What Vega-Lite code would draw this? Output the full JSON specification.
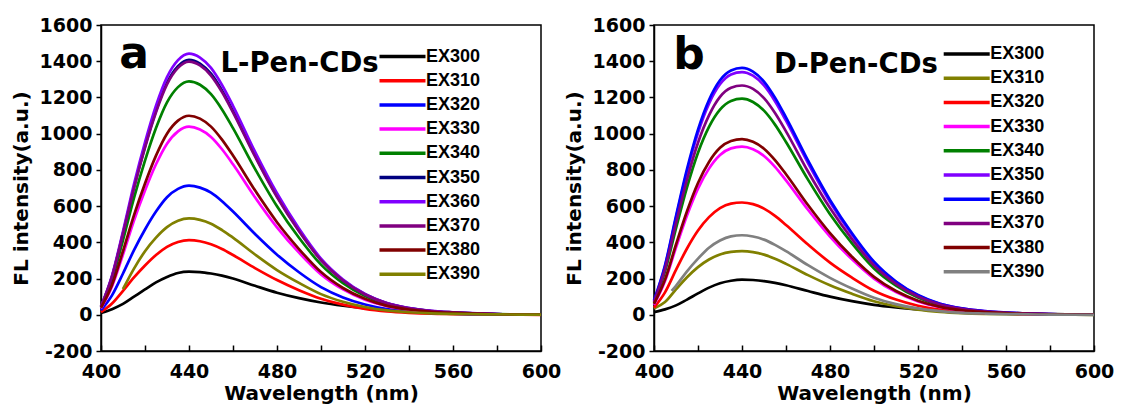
{
"$schema": "https://vega.github.io/schema/vega-lite/v6.json",
"background": "white",
"padding": {"left": 10, "top": 15, "right": 5, "bottom": 5},
"config": {
 "view": {"stroke": "black", "strokeWidth": 1.5},
 "axis": {"labelFont": "DejaVu Sans", "labelFontWeight": "bold", "labelFontSize": 19, "labelColor": "black", "titleFont": "DejaVu Sans", "titleFontWeight": "bold", "titleFontSize": 20, "titleColor": "black", "domainColor": "black", "domainWidth": 1.5, "tickColor": "black", "tickWidth": 1.5, "grid": false, "labelOverlap": false, "labelBound": false, "labelFlush": false},
 "legend": {"title": null, "labelFont": "Liberation Sans", "labelFontWeight": "bold", "labelFontSize": 18, "labelColor": "black", "symbolType": "stroke", "symbolSize": 2116, "symbolStrokeWidth": 3.5, "clipHeight": 22, "rowPadding": 2.2, "labelOffset": -1.5, "padding": 0, "orient": "none"}
},
"datasets": {"d": [
{"p":"a","s":"EX300","w":400,"v":10},{"p":"a","s":"EX300","w":405,"v":31},{"p":"a","s":"EX300","w":410,"v":60},{"p":"a","s":"EX300","w":415,"v":100},{"p":"a","s":"EX300","w":420,"v":140},{"p":"a","s":"EX300","w":425,"v":179},{"p":"a","s":"EX300","w":430,"v":209},{"p":"a","s":"EX300","w":435,"v":231},{"p":"a","s":"EX300","w":440,"v":238},{"p":"a","s":"EX300","w":445,"v":236},{"p":"a","s":"EX300","w":450,"v":228},{"p":"a","s":"EX300","w":455,"v":216},{"p":"a","s":"EX300","w":460,"v":200},{"p":"a","s":"EX300","w":470,"v":160},{"p":"a","s":"EX300","w":480,"v":122},{"p":"a","s":"EX300","w":490,"v":92},{"p":"a","s":"EX300","w":500,"v":68},{"p":"a","s":"EX300","w":510,"v":50},{"p":"a","s":"EX300","w":520,"v":36},{"p":"a","s":"EX300","w":530,"v":25},{"p":"a","s":"EX300","w":540,"v":17},{"p":"a","s":"EX300","w":550,"v":11},{"p":"a","s":"EX300","w":560,"v":7},{"p":"a","s":"EX300","w":580,"v":2},{"p":"a","s":"EX300","w":600,"v":1},
{"p":"a","s":"EX310","w":400,"v":15},{"p":"a","s":"EX310","w":405,"v":62},{"p":"a","s":"EX310","w":410,"v":132},{"p":"a","s":"EX310","w":415,"v":206},{"p":"a","s":"EX310","w":420,"v":272},{"p":"a","s":"EX310","w":425,"v":330},{"p":"a","s":"EX310","w":430,"v":375},{"p":"a","s":"EX310","w":435,"v":402},{"p":"a","s":"EX310","w":440,"v":412},{"p":"a","s":"EX310","w":445,"v":406},{"p":"a","s":"EX310","w":450,"v":389},{"p":"a","s":"EX310","w":455,"v":363},{"p":"a","s":"EX310","w":460,"v":330},{"p":"a","s":"EX310","w":470,"v":258},{"p":"a","s":"EX310","w":480,"v":192},{"p":"a","s":"EX310","w":490,"v":136},{"p":"a","s":"EX310","w":500,"v":89},{"p":"a","s":"EX310","w":510,"v":56},{"p":"a","s":"EX310","w":520,"v":33},{"p":"a","s":"EX310","w":530,"v":19},{"p":"a","s":"EX310","w":540,"v":11},{"p":"a","s":"EX310","w":550,"v":6},{"p":"a","s":"EX310","w":560,"v":4},{"p":"a","s":"EX310","w":580,"v":1},{"p":"a","s":"EX310","w":600,"v":0},
{"p":"a","s":"EX320","w":400,"v":25},{"p":"a","s":"EX320","w":405,"v":107},{"p":"a","s":"EX320","w":410,"v":228},{"p":"a","s":"EX320","w":415,"v":357},{"p":"a","s":"EX320","w":420,"v":471},{"p":"a","s":"EX320","w":425,"v":570},{"p":"a","s":"EX320","w":430,"v":649},{"p":"a","s":"EX320","w":435,"v":695},{"p":"a","s":"EX320","w":440,"v":713},{"p":"a","s":"EX320","w":445,"v":702},{"p":"a","s":"EX320","w":450,"v":674},{"p":"a","s":"EX320","w":455,"v":627},{"p":"a","s":"EX320","w":460,"v":570},{"p":"a","s":"EX320","w":470,"v":446},{"p":"a","s":"EX320","w":480,"v":332},{"p":"a","s":"EX320","w":490,"v":235},{"p":"a","s":"EX320","w":500,"v":153},{"p":"a","s":"EX320","w":510,"v":96},{"p":"a","s":"EX320","w":520,"v":57},{"p":"a","s":"EX320","w":530,"v":32},{"p":"a","s":"EX320","w":540,"v":19},{"p":"a","s":"EX320","w":550,"v":11},{"p":"a","s":"EX320","w":560,"v":6},{"p":"a","s":"EX320","w":580,"v":2},{"p":"a","s":"EX320","w":600,"v":1},
{"p":"a","s":"EX330","w":400,"v":35},{"p":"a","s":"EX330","w":405,"v":156},{"p":"a","s":"EX330","w":410,"v":332},{"p":"a","s":"EX330","w":415,"v":520},{"p":"a","s":"EX330","w":420,"v":686},{"p":"a","s":"EX330","w":425,"v":831},{"p":"a","s":"EX330","w":430,"v":945},{"p":"a","s":"EX330","w":435,"v":1013},{"p":"a","s":"EX330","w":440,"v":1039},{"p":"a","s":"EX330","w":445,"v":1023},{"p":"a","s":"EX330","w":450,"v":982},{"p":"a","s":"EX330","w":455,"v":914},{"p":"a","s":"EX330","w":460,"v":831},{"p":"a","s":"EX330","w":470,"v":649},{"p":"a","s":"EX330","w":480,"v":483},{"p":"a","s":"EX330","w":490,"v":343},{"p":"a","s":"EX330","w":500,"v":223},{"p":"a","s":"EX330","w":510,"v":140},{"p":"a","s":"EX330","w":520,"v":83},{"p":"a","s":"EX330","w":530,"v":47},{"p":"a","s":"EX330","w":540,"v":27},{"p":"a","s":"EX330","w":550,"v":16},{"p":"a","s":"EX330","w":560,"v":9},{"p":"a","s":"EX330","w":580,"v":3},{"p":"a","s":"EX330","w":600,"v":1},
{"p":"a","s":"EX340","w":400,"v":40},{"p":"a","s":"EX340","w":405,"v":193},{"p":"a","s":"EX340","w":410,"v":412},{"p":"a","s":"EX340","w":415,"v":645},{"p":"a","s":"EX340","w":420,"v":851},{"p":"a","s":"EX340","w":425,"v":1031},{"p":"a","s":"EX340","w":430,"v":1173},{"p":"a","s":"EX340","w":435,"v":1257},{"p":"a","s":"EX340","w":440,"v":1289},{"p":"a","s":"EX340","w":445,"v":1270},{"p":"a","s":"EX340","w":450,"v":1218},{"p":"a","s":"EX340","w":455,"v":1134},{"p":"a","s":"EX340","w":460,"v":1031},{"p":"a","s":"EX340","w":470,"v":806},{"p":"a","s":"EX340","w":480,"v":599},{"p":"a","s":"EX340","w":490,"v":425},{"p":"a","s":"EX340","w":500,"v":277},{"p":"a","s":"EX340","w":510,"v":174},{"p":"a","s":"EX340","w":520,"v":103},{"p":"a","s":"EX340","w":530,"v":58},{"p":"a","s":"EX340","w":540,"v":34},{"p":"a","s":"EX340","w":550,"v":19},{"p":"a","s":"EX340","w":560,"v":12},{"p":"a","s":"EX340","w":580,"v":4},{"p":"a","s":"EX340","w":600,"v":1},
{"p":"a","s":"EX350","w":400,"v":45},{"p":"a","s":"EX350","w":405,"v":211},{"p":"a","s":"EX350","w":410,"v":451},{"p":"a","s":"EX350","w":415,"v":704},{"p":"a","s":"EX350","w":420,"v":929},{"p":"a","s":"EX350","w":425,"v":1126},{"p":"a","s":"EX350","w":430,"v":1281},{"p":"a","s":"EX350","w":435,"v":1373},{"p":"a","s":"EX350","w":440,"v":1408},{"p":"a","s":"EX350","w":445,"v":1387},{"p":"a","s":"EX350","w":450,"v":1331},{"p":"a","s":"EX350","w":455,"v":1239},{"p":"a","s":"EX350","w":460,"v":1126},{"p":"a","s":"EX350","w":470,"v":880},{"p":"a","s":"EX350","w":480,"v":655},{"p":"a","s":"EX350","w":490,"v":465},{"p":"a","s":"EX350","w":500,"v":303},{"p":"a","s":"EX350","w":510,"v":190},{"p":"a","s":"EX350","w":520,"v":113},{"p":"a","s":"EX350","w":530,"v":63},{"p":"a","s":"EX350","w":540,"v":37},{"p":"a","s":"EX350","w":550,"v":21},{"p":"a","s":"EX350","w":560,"v":13},{"p":"a","s":"EX350","w":580,"v":4},{"p":"a","s":"EX350","w":600,"v":1},
{"p":"a","s":"EX360","w":400,"v":45},{"p":"a","s":"EX360","w":405,"v":216},{"p":"a","s":"EX360","w":410,"v":461},{"p":"a","s":"EX360","w":415,"v":721},{"p":"a","s":"EX360","w":420,"v":952},{"p":"a","s":"EX360","w":425,"v":1154},{"p":"a","s":"EX360","w":430,"v":1312},{"p":"a","s":"EX360","w":435,"v":1406},{"p":"a","s":"EX360","w":440,"v":1442},{"p":"a","s":"EX360","w":445,"v":1420},{"p":"a","s":"EX360","w":450,"v":1363},{"p":"a","s":"EX360","w":455,"v":1269},{"p":"a","s":"EX360","w":460,"v":1154},{"p":"a","s":"EX360","w":470,"v":901},{"p":"a","s":"EX360","w":480,"v":671},{"p":"a","s":"EX360","w":490,"v":476},{"p":"a","s":"EX360","w":500,"v":310},{"p":"a","s":"EX360","w":510,"v":195},{"p":"a","s":"EX360","w":520,"v":115},{"p":"a","s":"EX360","w":530,"v":65},{"p":"a","s":"EX360","w":540,"v":37},{"p":"a","s":"EX360","w":550,"v":22},{"p":"a","s":"EX360","w":560,"v":13},{"p":"a","s":"EX360","w":580,"v":4},{"p":"a","s":"EX360","w":600,"v":1},
{"p":"a","s":"EX370","w":400,"v":45},{"p":"a","s":"EX370","w":405,"v":210},{"p":"a","s":"EX370","w":410,"v":447},{"p":"a","s":"EX370","w":415,"v":699},{"p":"a","s":"EX370","w":420,"v":923},{"p":"a","s":"EX370","w":425,"v":1118},{"p":"a","s":"EX370","w":430,"v":1272},{"p":"a","s":"EX370","w":435,"v":1363},{"p":"a","s":"EX370","w":440,"v":1398},{"p":"a","s":"EX370","w":445,"v":1377},{"p":"a","s":"EX370","w":450,"v":1321},{"p":"a","s":"EX370","w":455,"v":1230},{"p":"a","s":"EX370","w":460,"v":1118},{"p":"a","s":"EX370","w":470,"v":874},{"p":"a","s":"EX370","w":480,"v":650},{"p":"a","s":"EX370","w":490,"v":461},{"p":"a","s":"EX370","w":500,"v":301},{"p":"a","s":"EX370","w":510,"v":189},{"p":"a","s":"EX370","w":520,"v":112},{"p":"a","s":"EX370","w":530,"v":63},{"p":"a","s":"EX370","w":540,"v":36},{"p":"a","s":"EX370","w":550,"v":21},{"p":"a","s":"EX370","w":560,"v":13},{"p":"a","s":"EX370","w":580,"v":4},{"p":"a","s":"EX370","w":600,"v":1},
{"p":"a","s":"EX380","w":400,"v":40},{"p":"a","s":"EX380","w":405,"v":165},{"p":"a","s":"EX380","w":410,"v":352},{"p":"a","s":"EX380","w":415,"v":550},{"p":"a","s":"EX380","w":420,"v":725},{"p":"a","s":"EX380","w":425,"v":879},{"p":"a","s":"EX380","w":430,"v":1000},{"p":"a","s":"EX380","w":435,"v":1072},{"p":"a","s":"EX380","w":440,"v":1099},{"p":"a","s":"EX380","w":445,"v":1083},{"p":"a","s":"EX380","w":450,"v":1039},{"p":"a","s":"EX380","w":455,"v":967},{"p":"a","s":"EX380","w":460,"v":879},{"p":"a","s":"EX380","w":470,"v":687},{"p":"a","s":"EX380","w":480,"v":511},{"p":"a","s":"EX380","w":490,"v":363},{"p":"a","s":"EX380","w":500,"v":236},{"p":"a","s":"EX380","w":510,"v":148},{"p":"a","s":"EX380","w":520,"v":88},{"p":"a","s":"EX380","w":530,"v":49},{"p":"a","s":"EX380","w":540,"v":29},{"p":"a","s":"EX380","w":550,"v":16},{"p":"a","s":"EX380","w":560,"v":10},{"p":"a","s":"EX380","w":580,"v":3},{"p":"a","s":"EX380","w":600,"v":1},
{"p":"a","s":"EX390","w":410,"v":142},{"p":"a","s":"EX390","w":415,"v":255},{"p":"a","s":"EX390","w":420,"v":351},{"p":"a","s":"EX390","w":425,"v":426},{"p":"a","s":"EX390","w":430,"v":484},{"p":"a","s":"EX390","w":435,"v":519},{"p":"a","s":"EX390","w":440,"v":532},{"p":"a","s":"EX390","w":445,"v":524},{"p":"a","s":"EX390","w":450,"v":503},{"p":"a","s":"EX390","w":455,"v":468},{"p":"a","s":"EX390","w":460,"v":426},{"p":"a","s":"EX390","w":470,"v":333},{"p":"a","s":"EX390","w":480,"v":247},{"p":"a","s":"EX390","w":490,"v":176},{"p":"a","s":"EX390","w":500,"v":114},{"p":"a","s":"EX390","w":510,"v":72},{"p":"a","s":"EX390","w":520,"v":43},{"p":"a","s":"EX390","w":530,"v":24},{"p":"a","s":"EX390","w":540,"v":14},{"p":"a","s":"EX390","w":550,"v":8},{"p":"a","s":"EX390","w":560,"v":5},{"p":"a","s":"EX390","w":580,"v":2},{"p":"a","s":"EX390","w":600,"v":1},
{"p":"b","s":"EX300","w":400,"v":15},{"p":"b","s":"EX300","w":405,"v":30},{"p":"b","s":"EX300","w":410,"v":52},{"p":"b","s":"EX300","w":415,"v":84},{"p":"b","s":"EX300","w":420,"v":118},{"p":"b","s":"EX300","w":425,"v":150},{"p":"b","s":"EX300","w":430,"v":174},{"p":"b","s":"EX300","w":435,"v":188},{"p":"b","s":"EX300","w":440,"v":194},{"p":"b","s":"EX300","w":445,"v":192},{"p":"b","s":"EX300","w":450,"v":186},{"p":"b","s":"EX300","w":455,"v":176},{"p":"b","s":"EX300","w":460,"v":163},{"p":"b","s":"EX300","w":470,"v":131},{"p":"b","s":"EX300","w":480,"v":100},{"p":"b","s":"EX300","w":490,"v":75},{"p":"b","s":"EX300","w":500,"v":55},{"p":"b","s":"EX300","w":510,"v":41},{"p":"b","s":"EX300","w":520,"v":30},{"p":"b","s":"EX300","w":530,"v":21},{"p":"b","s":"EX300","w":540,"v":14},{"p":"b","s":"EX300","w":550,"v":9},{"p":"b","s":"EX300","w":560,"v":6},{"p":"b","s":"EX300","w":580,"v":2},{"p":"b","s":"EX300","w":600,"v":1},
{"p":"b","s":"EX310","w":400,"v":35},{"p":"b","s":"EX310","w":405,"v":70},{"p":"b","s":"EX310","w":410,"v":140},{"p":"b","s":"EX310","w":415,"v":207},{"p":"b","s":"EX310","w":420,"v":263},{"p":"b","s":"EX310","w":425,"v":305},{"p":"b","s":"EX310","w":430,"v":333},{"p":"b","s":"EX310","w":435,"v":347},{"p":"b","s":"EX310","w":440,"v":351},{"p":"b","s":"EX310","w":445,"v":346},{"p":"b","s":"EX310","w":450,"v":332},{"p":"b","s":"EX310","w":455,"v":309},{"p":"b","s":"EX310","w":460,"v":281},{"p":"b","s":"EX310","w":470,"v":219},{"p":"b","s":"EX310","w":480,"v":163},{"p":"b","s":"EX310","w":490,"v":116},{"p":"b","s":"EX310","w":500,"v":75},{"p":"b","s":"EX310","w":510,"v":47},{"p":"b","s":"EX310","w":520,"v":28},{"p":"b","s":"EX310","w":530,"v":16},{"p":"b","s":"EX310","w":540,"v":9},{"p":"b","s":"EX310","w":550,"v":5},{"p":"b","s":"EX310","w":560,"v":3},{"p":"b","s":"EX310","w":580,"v":1},{"p":"b","s":"EX310","w":600,"v":0},
{"p":"b","s":"EX320","w":400,"v":40},{"p":"b","s":"EX320","w":405,"v":124},{"p":"b","s":"EX320","w":410,"v":248},{"p":"b","s":"EX320","w":415,"v":366},{"p":"b","s":"EX320","w":420,"v":465},{"p":"b","s":"EX320","w":425,"v":539},{"p":"b","s":"EX320","w":430,"v":589},{"p":"b","s":"EX320","w":435,"v":614},{"p":"b","s":"EX320","w":440,"v":620},{"p":"b","s":"EX320","w":445,"v":611},{"p":"b","s":"EX320","w":450,"v":586},{"p":"b","s":"EX320","w":455,"v":546},{"p":"b","s":"EX320","w":460,"v":496},{"p":"b","s":"EX320","w":470,"v":388},{"p":"b","s":"EX320","w":480,"v":288},{"p":"b","s":"EX320","w":490,"v":205},{"p":"b","s":"EX320","w":500,"v":133},{"p":"b","s":"EX320","w":510,"v":84},{"p":"b","s":"EX320","w":520,"v":50},{"p":"b","s":"EX320","w":530,"v":28},{"p":"b","s":"EX320","w":540,"v":16},{"p":"b","s":"EX320","w":550,"v":9},{"p":"b","s":"EX320","w":560,"v":6},{"p":"b","s":"EX320","w":580,"v":2},{"p":"b","s":"EX320","w":600,"v":1},
{"p":"b","s":"EX330","w":400,"v":55},{"p":"b","s":"EX330","w":405,"v":186},{"p":"b","s":"EX330","w":410,"v":371},{"p":"b","s":"EX330","w":415,"v":548},{"p":"b","s":"EX330","w":420,"v":696},{"p":"b","s":"EX330","w":425,"v":807},{"p":"b","s":"EX330","w":430,"v":882},{"p":"b","s":"EX330","w":435,"v":919},{"p":"b","s":"EX330","w":440,"v":928},{"p":"b","s":"EX330","w":445,"v":914},{"p":"b","s":"EX330","w":450,"v":877},{"p":"b","s":"EX330","w":455,"v":817},{"p":"b","s":"EX330","w":460,"v":742},{"p":"b","s":"EX330","w":470,"v":580},{"p":"b","s":"EX330","w":480,"v":432},{"p":"b","s":"EX330","w":490,"v":306},{"p":"b","s":"EX330","w":500,"v":200},{"p":"b","s":"EX330","w":510,"v":125},{"p":"b","s":"EX330","w":520,"v":74},{"p":"b","s":"EX330","w":530,"v":42},{"p":"b","s":"EX330","w":540,"v":24},{"p":"b","s":"EX330","w":550,"v":14},{"p":"b","s":"EX330","w":560,"v":8},{"p":"b","s":"EX330","w":580,"v":3},{"p":"b","s":"EX330","w":600,"v":1},
{"p":"b","s":"EX340","w":400,"v":65},{"p":"b","s":"EX340","w":405,"v":239},{"p":"b","s":"EX340","w":410,"v":477},{"p":"b","s":"EX340","w":415,"v":704},{"p":"b","s":"EX340","w":420,"v":895},{"p":"b","s":"EX340","w":425,"v":1038},{"p":"b","s":"EX340","w":430,"v":1133},{"p":"b","s":"EX340","w":435,"v":1181},{"p":"b","s":"EX340","w":440,"v":1193},{"p":"b","s":"EX340","w":445,"v":1175},{"p":"b","s":"EX340","w":450,"v":1127},{"p":"b","s":"EX340","w":455,"v":1050},{"p":"b","s":"EX340","w":460,"v":954},{"p":"b","s":"EX340","w":470,"v":746},{"p":"b","s":"EX340","w":480,"v":555},{"p":"b","s":"EX340","w":490,"v":394},{"p":"b","s":"EX340","w":500,"v":256},{"p":"b","s":"EX340","w":510,"v":161},{"p":"b","s":"EX340","w":520,"v":95},{"p":"b","s":"EX340","w":530,"v":54},{"p":"b","s":"EX340","w":540,"v":31},{"p":"b","s":"EX340","w":550,"v":18},{"p":"b","s":"EX340","w":560,"v":11},{"p":"b","s":"EX340","w":580,"v":4},{"p":"b","s":"EX340","w":600,"v":1},
{"p":"b","s":"EX350","w":400,"v":75},{"p":"b","s":"EX350","w":405,"v":268},{"p":"b","s":"EX350","w":410,"v":536},{"p":"b","s":"EX350","w":415,"v":791},{"p":"b","s":"EX350","w":420,"v":1005},{"p":"b","s":"EX350","w":425,"v":1166},{"p":"b","s":"EX350","w":430,"v":1273},{"p":"b","s":"EX350","w":435,"v":1327},{"p":"b","s":"EX350","w":440,"v":1340},{"p":"b","s":"EX350","w":445,"v":1320},{"p":"b","s":"EX350","w":450,"v":1266},{"p":"b","s":"EX350","w":455,"v":1179},{"p":"b","s":"EX350","w":460,"v":1072},{"p":"b","s":"EX350","w":470,"v":838},{"p":"b","s":"EX350","w":480,"v":623},{"p":"b","s":"EX350","w":490,"v":442},{"p":"b","s":"EX350","w":500,"v":288},{"p":"b","s":"EX350","w":510,"v":181},{"p":"b","s":"EX350","w":520,"v":107},{"p":"b","s":"EX350","w":530,"v":60},{"p":"b","s":"EX350","w":540,"v":35},{"p":"b","s":"EX350","w":550,"v":20},{"p":"b","s":"EX350","w":560,"v":12},{"p":"b","s":"EX350","w":580,"v":4},{"p":"b","s":"EX350","w":600,"v":1},
{"p":"b","s":"EX360","w":400,"v":80},{"p":"b","s":"EX360","w":405,"v":273},{"p":"b","s":"EX360","w":410,"v":545},{"p":"b","s":"EX360","w":415,"v":804},{"p":"b","s":"EX360","w":420,"v":1022},{"p":"b","s":"EX360","w":425,"v":1186},{"p":"b","s":"EX360","w":430,"v":1295},{"p":"b","s":"EX360","w":435,"v":1349},{"p":"b","s":"EX360","w":440,"v":1363},{"p":"b","s":"EX360","w":445,"v":1343},{"p":"b","s":"EX360","w":450,"v":1288},{"p":"b","s":"EX360","w":455,"v":1199},{"p":"b","s":"EX360","w":460,"v":1090},{"p":"b","s":"EX360","w":470,"v":852},{"p":"b","s":"EX360","w":480,"v":634},{"p":"b","s":"EX360","w":490,"v":450},{"p":"b","s":"EX360","w":500,"v":293},{"p":"b","s":"EX360","w":510,"v":184},{"p":"b","s":"EX360","w":520,"v":109},{"p":"b","s":"EX360","w":530,"v":61},{"p":"b","s":"EX360","w":540,"v":35},{"p":"b","s":"EX360","w":550,"v":20},{"p":"b","s":"EX360","w":560,"v":12},{"p":"b","s":"EX360","w":580,"v":4},{"p":"b","s":"EX360","w":600,"v":1},
{"p":"b","s":"EX370","w":400,"v":70},{"p":"b","s":"EX370","w":405,"v":253},{"p":"b","s":"EX370","w":410,"v":506},{"p":"b","s":"EX370","w":415,"v":747},{"p":"b","s":"EX370","w":420,"v":950},{"p":"b","s":"EX370","w":425,"v":1101},{"p":"b","s":"EX370","w":430,"v":1203},{"p":"b","s":"EX370","w":435,"v":1253},{"p":"b","s":"EX370","w":440,"v":1266},{"p":"b","s":"EX370","w":445,"v":1247},{"p":"b","s":"EX370","w":450,"v":1196},{"p":"b","s":"EX370","w":455,"v":1114},{"p":"b","s":"EX370","w":460,"v":1013},{"p":"b","s":"EX370","w":470,"v":791},{"p":"b","s":"EX370","w":480,"v":589},{"p":"b","s":"EX370","w":490,"v":418},{"p":"b","s":"EX370","w":500,"v":272},{"p":"b","s":"EX370","w":510,"v":171},{"p":"b","s":"EX370","w":520,"v":101},{"p":"b","s":"EX370","w":530,"v":57},{"p":"b","s":"EX370","w":540,"v":33},{"p":"b","s":"EX370","w":550,"v":19},{"p":"b","s":"EX370","w":560,"v":11},{"p":"b","s":"EX370","w":580,"v":4},{"p":"b","s":"EX370","w":600,"v":1},
{"p":"b","s":"EX380","w":400,"v":60},{"p":"b","s":"EX380","w":405,"v":194},{"p":"b","s":"EX380","w":410,"v":388},{"p":"b","s":"EX380","w":415,"v":572},{"p":"b","s":"EX380","w":420,"v":728},{"p":"b","s":"EX380","w":425,"v":844},{"p":"b","s":"EX380","w":430,"v":922},{"p":"b","s":"EX380","w":435,"v":960},{"p":"b","s":"EX380","w":440,"v":970},{"p":"b","s":"EX380","w":445,"v":955},{"p":"b","s":"EX380","w":450,"v":917},{"p":"b","s":"EX380","w":455,"v":854},{"p":"b","s":"EX380","w":460,"v":776},{"p":"b","s":"EX380","w":470,"v":606},{"p":"b","s":"EX380","w":480,"v":451},{"p":"b","s":"EX380","w":490,"v":320},{"p":"b","s":"EX380","w":500,"v":209},{"p":"b","s":"EX380","w":510,"v":131},{"p":"b","s":"EX380","w":520,"v":78},{"p":"b","s":"EX380","w":530,"v":44},{"p":"b","s":"EX380","w":540,"v":25},{"p":"b","s":"EX380","w":550,"v":15},{"p":"b","s":"EX380","w":560,"v":9},{"p":"b","s":"EX380","w":580,"v":3},{"p":"b","s":"EX380","w":600,"v":1},
{"p":"b","s":"EX390","w":408,"v":132},{"p":"b","s":"EX390","w":410,"v":160},{"p":"b","s":"EX390","w":415,"v":240},{"p":"b","s":"EX390","w":420,"v":310},{"p":"b","s":"EX390","w":425,"v":370},{"p":"b","s":"EX390","w":430,"v":410},{"p":"b","s":"EX390","w":435,"v":433},{"p":"b","s":"EX390","w":440,"v":439},{"p":"b","s":"EX390","w":445,"v":432},{"p":"b","s":"EX390","w":450,"v":415},{"p":"b","s":"EX390","w":455,"v":386},{"p":"b","s":"EX390","w":460,"v":351},{"p":"b","s":"EX390","w":470,"v":274},{"p":"b","s":"EX390","w":480,"v":204},{"p":"b","s":"EX390","w":490,"v":145},{"p":"b","s":"EX390","w":500,"v":94},{"p":"b","s":"EX390","w":510,"v":59},{"p":"b","s":"EX390","w":520,"v":35},{"p":"b","s":"EX390","w":530,"v":20},{"p":"b","s":"EX390","w":540,"v":11},{"p":"b","s":"EX390","w":550,"v":7},{"p":"b","s":"EX390","w":560,"v":4},{"p":"b","s":"EX390","w":580,"v":1},{"p":"b","s":"EX390","w":600,"v":0}
]},
"spacing": 1,
"resolve": {"scale": {"color": "independent"}, "legend": {"color": "independent"}},
"hconcat": [
 {"width": 440, "height": 326,
  "encoding": {
   "x": {"field": "w", "type": "quantitative", "scale": {"domain": [400, 600], "nice": false, "zero": false},
    "axis": {"title": "Wavelength (nm)", "values": [400,420,440,460,480,500,520,540,560,580,600], "labelExpr": "datum.value % 40 == 0 ? '' + datum.value : ''", "labelOverlap": false, "tickSize": -6, "labelPadding": 17, "titlePadding": 2}},
   "y": {"field": "v", "type": "quantitative", "scale": {"domain": [-200, 1600], "nice": false},
    "axis": {"title": "FL intensity(a.u.)", "values": [-200,0,200,400,600,800,1000,1200,1400,1600], "labelExpr": "'' + datum.value", "labelOverlap": false, "tickSize": 5, "labelPadding": 4, "titlePadding": 8}}
  },
  "layer": [
   {"data": {"name": "d"}, "transform": [{"filter": "datum.p == 'a'"}],
    "mark": {"type": "line", "interpolate": "monotone", "strokeWidth": 2.7},
    "encoding": {
     "color": {"field": "s", "type": "nominal",
      "scale": {"domain": ["EX300","EX310","EX320","EX330","EX340","EX350","EX360","EX370","EX380","EX390"], "range": ["#000000","#ff0000","#0000ff","#ff00ff","#008000","#000080","#8000ff","#800080","#800000","#808000"]},
      "legend": {"legendX": 276.5, "legendY": 20.5}}
    }},
   {"data": {"values": [{"t": "a", "w": 408.3, "v": 1363}]},
    "mark": {"type": "text", "font": "DejaVu Sans", "fontWeight": "bold", "fontSize": 44, "align": "left", "baseline": "alphabetic", "color": "black"},
    "encoding": {"text": {"field": "t"}}},
   {"data": {"values": [{"t": "L-Pen-CDs", "w": 454.3, "v": 1343}]},
    "mark": {"type": "text", "font": "DejaVu Sans", "fontWeight": "bold", "fontSize": 27.5, "align": "left", "baseline": "alphabetic", "color": "black"},
    "encoding": {"text": {"field": "t"}}}
  ]},
 {"width": 440, "height": 326,
  "encoding": {
   "x": {"field": "w", "type": "quantitative", "scale": {"domain": [400, 600], "nice": false, "zero": false},
    "axis": {"title": "Wavelength (nm)", "values": [400,420,440,460,480,500,520,540,560,580,600], "labelExpr": "datum.value % 40 == 0 ? '' + datum.value : ''", "labelOverlap": false, "tickSize": -6, "labelPadding": 17, "titlePadding": 2}},
   "y": {"field": "v", "type": "quantitative", "scale": {"domain": [-200, 1600], "nice": false},
    "axis": {"title": "FL intensity(a.u.)", "values": [-200,0,200,400,600,800,1000,1200,1400,1600], "labelExpr": "'' + datum.value", "labelOverlap": false, "tickSize": 5, "labelPadding": 4, "titlePadding": 8}}
  },
  "layer": [
   {"data": {"name": "d"}, "transform": [{"filter": "datum.p == 'b'"}],
    "mark": {"type": "line", "interpolate": "monotone", "strokeWidth": 2.7},
    "encoding": {
     "color": {"field": "s", "type": "nominal",
      "scale": {"domain": ["EX300","EX310","EX320","EX330","EX340","EX350","EX360","EX370","EX380","EX390"], "range": ["#000000","#808000","#ff0000","#ff00ff","#008000","#8000ff","#0000ff","#800080","#800000","#808080"]},
      "legend": {"legendX": 287.7, "legendY": 18}}
    }},
   {"data": {"values": [{"t": "b", "w": 408.8, "v": 1357}]},
    "mark": {"type": "text", "font": "DejaVu Sans", "fontWeight": "bold", "fontSize": 44, "align": "left", "baseline": "alphabetic", "color": "black"},
    "encoding": {"text": {"field": "t"}}},
   {"data": {"values": [{"t": "D-Pen-CDs", "w": 454.5, "v": 1335}]},
    "mark": {"type": "text", "font": "DejaVu Sans", "fontWeight": "bold", "fontSize": 27.5, "align": "left", "baseline": "alphabetic", "color": "black"},
    "encoding": {"text": {"field": "t"}}}
  ]}
]
}
